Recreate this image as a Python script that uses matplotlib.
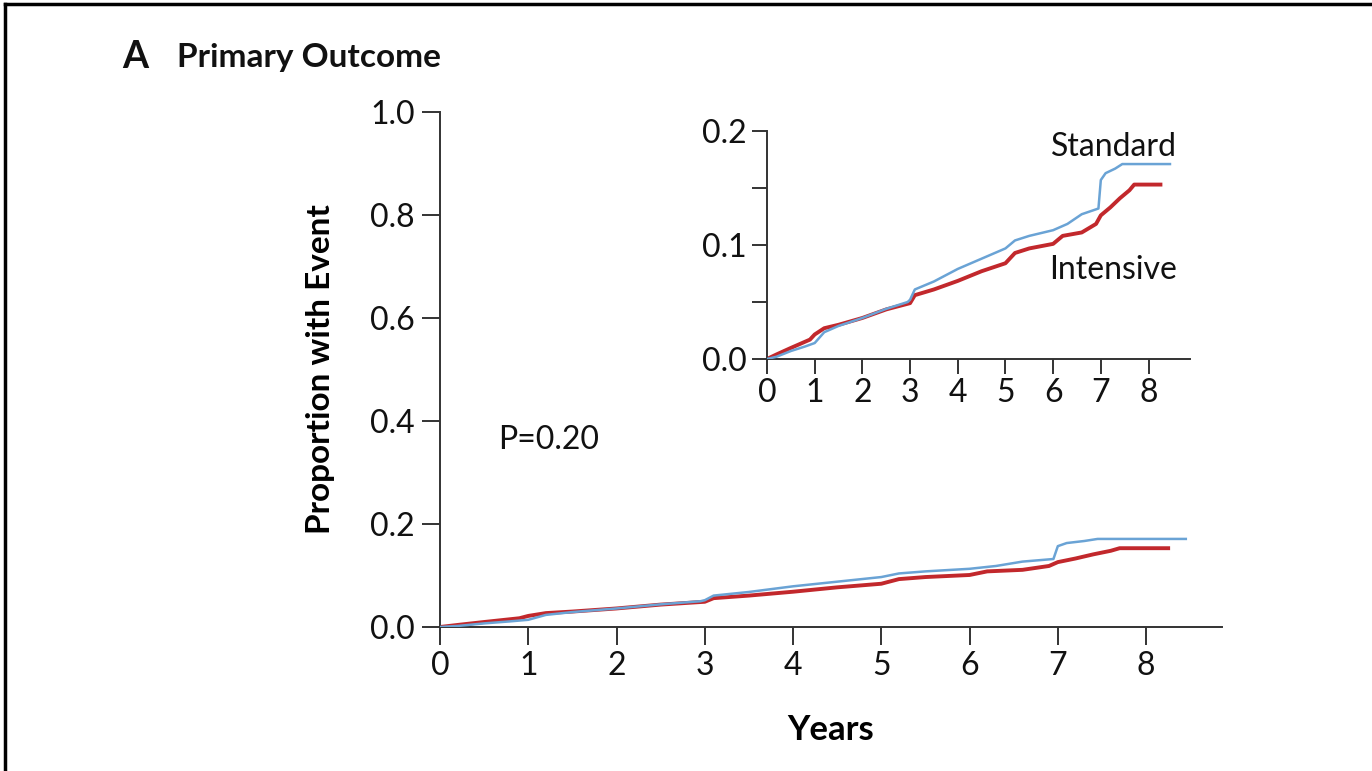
import matplotlib
matplotlib.use("Agg")
import matplotlib.pyplot as plt
from matplotlib.lines import Line2D

plt.rcParams['font.family'] = ['Lato', 'DejaVu Sans']

# Data: cumulative proportion with event
std_years = [0, 0.2, 0.5, 0.8, 1.0, 1.2, 1.5, 2.0, 2.5, 2.95, 3.0, 3.1, 3.5, 4.0, 4.5, 5.0, 5.2, 5.5, 6.0,
             6.3, 6.6, 6.95, 7.0, 7.1, 7.3, 7.45, 8.45]
std_vals = [0, 0.002, 0.007, 0.011, 0.014, 0.0235, 0.029, 0.036, 0.044, 0.050, 0.052, 0.061, 0.068, 0.079,
            0.088, 0.097, 0.104, 0.108, 0.113, 0.1185, 0.127, 0.132, 0.157, 0.163, 0.167, 0.171, 0.171]
int_years = [0, 0.2, 0.5, 0.9, 1.0, 1.2, 1.5, 2.0, 2.5, 3.0, 3.1, 3.5, 4.0, 4.5, 5.0, 5.2, 5.5, 6.0,
             6.2, 6.6, 6.9, 7.0, 7.2, 7.4, 7.6, 7.7, 8.25]
int_vals = [0, 0.004, 0.0097, 0.017, 0.0215, 0.027, 0.030, 0.036, 0.0435, 0.049, 0.056, 0.061, 0.0685,
            0.077, 0.084, 0.093, 0.097, 0.101, 0.108, 0.111, 0.1185, 0.126, 0.133, 0.141, 0.148, 0.153, 0.153]

main_yticks = [0.0, 0.2, 0.4, 0.6, 0.8, 1.0]
main_yticklabels = ["0.0", "0.2", "0.4", "0.6", "0.8", "1.0"]
xticks = [0, 1, 2, 3, 4, 5, 6, 7, 8]
inset_yticks = [0.0, 0.1, 0.2]
inset_yticklabels = ["0.0", "0.1", "0.2"]

blue = "#6aa3d5"
red = "#c2282c"

fig = plt.figure(figsize=(13.72, 7.71), dpi=100)

# border lines (top and left)
fig.add_artist(Line2D([5/1372, 1.0], [1-4/771, 1-4/771], transform=fig.transFigure, color="black", lw=2.5))
fig.add_artist(Line2D([5/1372, 5/1372], [0, 1-4/771], transform=fig.transFigure, color="black", lw=2.5))

def style(ax, ticklen, fs):
    for s in ["top", "right"]:
        ax.spines[s].set_visible(False)
    for s in ["left", "bottom"]:
        ax.spines[s].set_linewidth(1.4)
        ax.spines[s].set_color("#333333")
    ax.tick_params(axis="both", direction="out", length=ticklen, width=1.4, color="#333333",
                   labelsize=fs, labelcolor="#111111")

FS = 23

# main axes
ax = fig.add_axes([440/1372, 1-627/771, (1222-440)/1372, (627-112)/771])
ax.plot(std_years, std_vals, color=blue, lw=1.8, zorder=3)
ax.plot(int_years, int_vals, color=red, lw=2.8, zorder=2)
ax.set_xlim(0, 8.86)
ax.set_ylim(0, 1.0)
ax.set_xticks(xticks)
ax.set_yticks(main_yticks)
ax.set_yticklabels(main_yticklabels)
style(ax, 13, FS)
ax.tick_params(axis="x", pad=4)
ax.tick_params(axis="y", pad=5)
ax.set_xlabel("Years", fontsize=25, fontweight="bold")
ax.set_ylabel("Proportion with Event", fontsize=24, fontweight="bold")
ax.xaxis.set_label_coords(0.50, -0.168)
ax.yaxis.set_label_coords(-0.134, 0.50)
ax.text(0.66, 0.363, "P=0.20", fontsize=FS, ha="left", va="center", color="#111111")

# inset axes
ins = fig.add_axes([767/1372, 1-359/771, (1190-767)/1372, (359-131)/771])
ins.plot(std_years, std_vals, color=blue, lw=1.8, zorder=3)
ins.plot(int_years, int_vals, color=red, lw=2.8, zorder=2)
ins.set_xlim(0, 8.87)
ins.set_ylim(0, 0.2)
ins.set_xticks(xticks)
ins.set_yticks(inset_yticks)
ins.set_yticklabels(inset_yticklabels)
ins.set_yticks([0.05, 0.15], minor=True)
style(ins, 11, FS)
ins.tick_params(axis="y", which="minor", direction="out", length=11, width=1.4, color="#333333")
ins.tick_params(axis="x", pad=3)
ins.text(8.6, 0.186, "Standard", fontsize=FS, ha="right", va="center", color="#111111")
ins.text(8.6, 0.078, "Intensive", fontsize=FS, ha="right", va="center", color="#111111")

# panel title
fig.text(122/1372, 1-57/771, "A", fontsize=27, fontweight="bold", ha="left", va="center", color="#111111")
fig.text(177/1372, 1-57/771, "Primary Outcome", fontsize=24, fontweight="bold", ha="left", va="center",
         color="#111111")

fig.savefig("out.png", dpi=100)
